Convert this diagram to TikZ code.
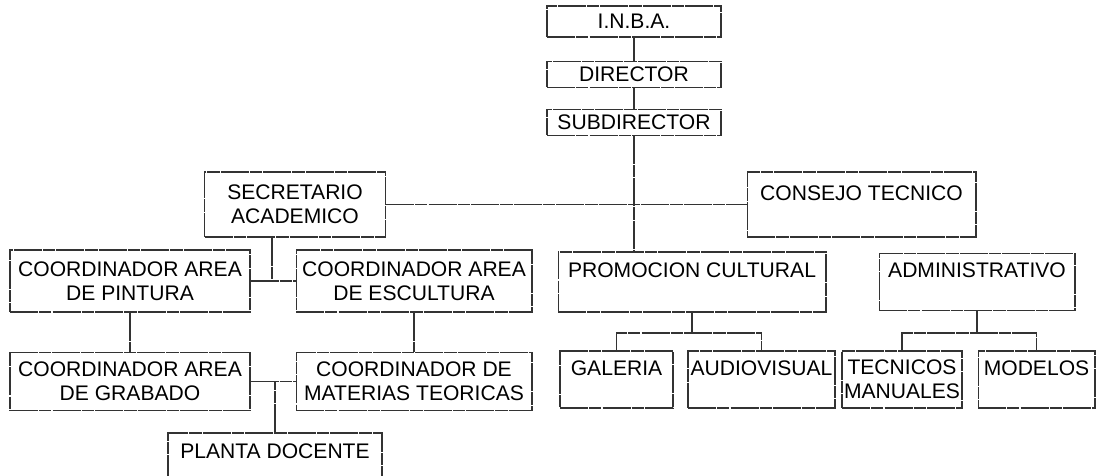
\documentclass[tikz,border=0pt]{standalone}
\usepackage{fontspec}
\setmainfont{Liberation Sans}
\usetikzlibrary{positioning}
\tikzset{
    org/.style={
        rectangle,
        draw=black!80,
        line width=0.6pt,
        dash pattern=on 16pt off 0.6pt on 7pt off 0.6pt,
        inner sep=0pt,
        align=center,
        text=black,
        font=\fontsize{12}{13.5}\selectfont,
    },
    every edge/.style={
        draw=black!80,
        line width=0.6pt,
        dash pattern=on 16pt off 0.6pt on 7pt off 0.6pt,
    },
    link/.style={
        draw=black!80,
        line width=0.6pt,
        dash pattern=on 16pt off 0.6pt on 7pt off 0.6pt,
    },
  }

\begin{document}
\begin{tikzpicture}[x=0.02cm,y=-0.02cm]
              \useasboundingbox (0,0) rectangle (1101,476);
              \clip (0,0) rectangle (1101,476);

              % direccion
              \node [org,minimum width=3.48cm,minimum height=0.62cm] (inba) at (634,21.5) {I.N.B.A.};
              \node [org,minimum width=3.48cm,minimum height=0.52cm,below=0.46cm of inba] (dir) {DIRECTOR};
              \node [org,minimum width=3.48cm,minimum height=0.52cm,below=0.42cm of dir] (sub) {SUBDIRECTOR};

              \node [org,minimum width=3.62cm,minimum height=1.30cm] (sec) at (295,204.5) {SECRETARIO\\ACADEMICO};
              \node [org,minimum width=4.58cm,minimum height=1.30cm] (con) at (861.5,204.5) {CONSEJO TECNICO\\~};

              % coordinaciones
              \node [org,minimum width=4.80cm,minimum height=1.24cm] (pin) at (130,281) {COORDINADOR AREA\\DE PINTURA};
              \node [org,minimum width=4.72cm,minimum height=1.24cm] (esc) at (414,281) {COORDINADOR AREA\\DE ESCULTURA};
              \node [org,minimum width=4.80cm,minimum height=1.16cm] (gra) at (130,381.5) {COORDINADOR AREA\\DE GRABADO};
              \node [org,minimum width=4.72cm,minimum height=1.16cm] (mat) at (414,381.5) {COORDINADOR DE\\MATERIAS TEORICAS};
              \node [org,minimum width=4.28cm,minimum height=1.20cm] (pla) at (275,463) {PLANTA DOCENTE\\~};

              % promocion y administracion
              \node [org,minimum width=5.36cm,minimum height=1.20cm] (pro) at (692,282) {PROMOCION CULTURAL\\~};
              \node [org,minimum width=3.92cm,minimum height=1.14cm] (adm) at (977,282) {ADMINISTRATIVO\\~};
              \node [org,minimum width=2.26cm,minimum height=1.14cm] (gal) at (616.5,379.5) {GALERIA\\~};
              \node [org,minimum width=2.94cm,minimum height=1.14cm] (aud) at (761.5,379.5) {AUDIOVISUAL\\~};
              \node [org,minimum width=2.40cm,minimum height=1.14cm] (tec) at (902,379.5) {TECNICOS\\MANUALES};
              \node [org,minimum width=2.34cm,minimum height=1.14cm] (mod) at (1036.5,379.5) {MODELOS\\~};

              \coordinate (j1) at (272,281);
              \coordinate (b1) at (692,333);
              \coordinate (b2) at (977,333);

              \draw (inba) edge (dir);
              \draw (dir) edge (sub);
              \draw [link] (sub.south) -- (sub.south |- pro.north);
              \draw (sec) edge (con);
              \draw (pin) edge (esc);
              \draw [link] (sec.south -| j1) -- (j1);
              \draw (pin) edge (gra);
              \draw (esc) edge (mat);
              \draw (gra) edge (mat);
              \draw [link] (pla.north) -- (pla.north |- gra.east);
              \draw [link] (pro.south) -- (b1);
              \draw [link] (gal.north) |- (b1) -| (aud.north);
              \draw [link] (adm.south) -- (b2);
              \draw [link] (tec.north) |- (b2) -| (mod.north);
            \end{tikzpicture}
\end{document}
